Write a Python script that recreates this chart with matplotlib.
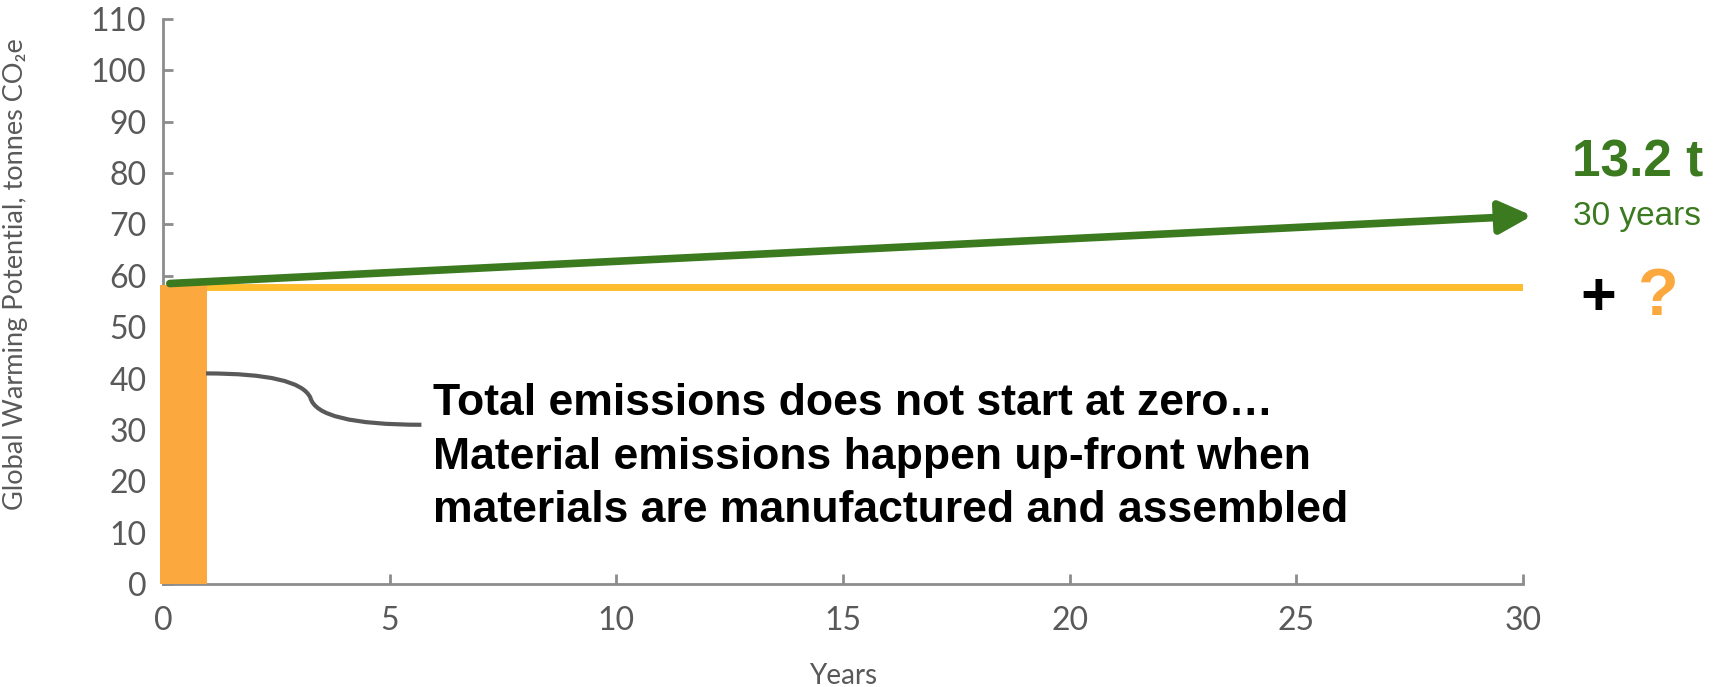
import numpy as np
import matplotlib.pyplot as plt
from matplotlib.path import Path
from matplotlib.patches import PathPatch

W, H = 1721, 687

# data
bar_x = [0.45]
bar_h = [58.2]          # up-front material emissions
material_years = [0.95, 30]
material_level = [57.9, 57.9]
total_years = [0.15, 30.2]
total_level = [58.5, 71.7]   # +13.2 t over 30 years
x_ticks = [0, 5, 10, 15, 20, 25, 30]
y_ticks = list(range(0, 111, 10))

green = '#3b7a1f'
orange = '#fba83e'
yellow = '#fdbd2e'
grey = '#595959'

fig = plt.figure(figsize=(W / 100, H / 100), dpi=100)
ax = fig.add_axes([163 / W, 1 - 584 / H, 1360 / W, (584 - 19) / H])

ax.bar(bar_x, bar_h, width=1.05, color=orange, zorder=5, clip_on=False)
ax.plot(material_years, material_level, color=yellow, lw=5, solid_capstyle='butt', zorder=4)
ax.annotate('', xy=(total_years[1], total_level[1]), xytext=(total_years[0], total_level[0]),
            arrowprops=dict(arrowstyle='-|>,head_length=1.3,head_width=0.65', mutation_scale=15,
                            color=green, lw=5.5, shrinkA=0, shrinkB=0),
            annotation_clip=False, zorder=6)

# curved callout connector
verts = [(0.95, 41.0), (3.0, 41.0), (3.25, 36.3),
         (3.4, 31.0), (5.7, 31.0)]
codes = [Path.MOVETO, Path.CURVE3, Path.CURVE3, Path.CURVE3, Path.CURVE3]
ax.add_patch(PathPatch(Path(verts, codes), fill=False, edgecolor=grey, lw=3, zorder=6))

ax.set_xlim(0, 30)
ax.set_ylim(0, 110)
ax.set_xticks(x_ticks)
ax.set_yticks(y_ticks)
for s in ['top', 'right']:
    ax.spines[s].set_visible(False)
for s in ['left', 'bottom']:
    ax.spines[s].set_color('#8c8c8c')
    ax.spines[s].set_linewidth(2)
ax.tick_params(axis='both', direction='in', color='#8c8c8c', width=2, length=7,
               labelsize=23, labelcolor=grey)
ax.tick_params(axis='y', pad=12)
ax.tick_params(axis='x', pad=16)
for lab in ax.get_xticklabels() + ax.get_yticklabels():
    lab.set_family('Lato')

ax.set_ylabel('Global Warming Potential, tonnes CO₂e', fontsize=19.5, color=grey,
              family=['Lato', 'DejaVu Sans'])
ax.yaxis.set_label_coords(-0.099, 0.548)
ax.set_xlabel('Years', fontsize=20, color=grey, family='Lato')
ax.xaxis.set_label_coords(0.5, -0.14)

fig.text(433 / W, 1 - 457 / H,
         'Total emissions does not start at zero…\n'
         'Material emissions happen up-front when\n'
         'materials are manufactured and assembled',
         fontsize=32, fontweight='bold', family='Liberation Sans', va='center', ha='left',
         linespacing=1.4)

fig.text(1638 / W, 1 - 163 / H, '13.2 t', fontsize=37, fontweight='bold', color=green,
         family='Liberation Sans', ha='center', va='center')
fig.text(1637 / W, 1 - 217 / H, '30 years', fontsize=24, color=green,
         family='Liberation Sans', ha='center', va='center')
fig.text(1598 / W, 1 - 300 / H, '+', fontsize=44, fontweight='bold', color='black',
         family='Liberation Sans', ha='center', va='center')
fig.text(1658 / W, 1 - 298 / H, '?', fontsize=48, fontweight='bold', color=orange,
         family='Liberation Sans', ha='center', va='center')

fig.savefig('out.png', dpi=100)
